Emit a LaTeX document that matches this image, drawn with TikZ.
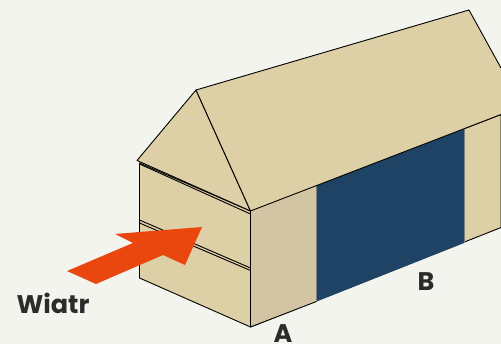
\documentclass[tikz,border=0pt]{standalone}
\usepackage{xcolor}
\usepackage{fontspec}
\setmainfont{Poppins}
\definecolor{wallbg}{HTML}{F3F4EE}
\definecolor{walltan}{HTML}{DDCFA6}
\definecolor{walldark}{HTML}{D3C5A3}
\definecolor{doorblue}{HTML}{1F4364}
\definecolor{windorange}{HTML}{EA470F}
\definecolor{labelgray}{HTML}{2B2B2B}
\tikzset{
  edge/.style={draw=black, line width=0.9pt, line join=round},
  seam/.style={draw=black, line width=0.9pt},
  label/.style={font=\fontsize{25.5}{25.5}\selectfont\bfseries, text=labelgray, inner sep=0pt}
}
\begin{document}
\begin{tikzpicture}[x=1pt, y=-1pt]
\useasboundingbox (0,0) rectangle (501,344);
% Background
\fill[wallbg] (0,0) rectangle (501,344);
% Gable wall
\draw[edge, fill=walltan] (139.5,163) -- (139.5,278) -- (250.5,327) -- (250.5,211) -- cycle;
% Gable triangle
\draw[edge, fill=walltan] (137,160.5) -- (196,90) -- (250.5,211) -- cycle;
% Long wall
\draw[edge, fill=walltan] (250.5,211) -- (250.5,327) -- (501,227.5) -- (501,114.5) -- cycle;
% Corner panel
\fill[walldark] (250.5,211) -- (250.5,327) -- (316.5,301.5) -- (316.5,185) -- cycle;
\draw[edge] (250.5,327) -- (316.5,301.5);
\draw[edge] (250.5,211) -- (250.5,327);
% Door
\fill[doorblue] (316.5,184.5) -- (316.5,301.5) -- (464,243) -- (464,128) -- cycle;
\draw[line width=0.5pt, draw=gray] (316.5,185) -- (316.5,301);
\draw[line width=0.5pt, draw=gray] (464,129) -- (464,243);
% Roof
\fill[walltan] (196,90) -- (469,10) -- (501,68) -- (501,114.5) -- (250.5,211) -- cycle;
\draw[edge] (196,90) -- (469,10) -- (501,68);
\draw[edge] (196,90) -- (250.5,211) -- (501,114.5);
% Seams on the gable wall
\foreach \ya/\yb in {164/214, 220/268, 223/270.5} {
    \draw[seam] (139.5,\ya) -- (250.5,\yb);
}
% Wind arrow
\fill[windorange] (67,271) -- (96,284) -- (163,255) -- (185,265) -- (202,227)
    -- (115,234) -- (133,243) -- cycle;
% Labels
\node[label] (wind) at (53,303) {Wiatr};
\node[label] (sideA) at (283,333.5) {A};
\node[label] (sideB) at (426,282) {B};
\end{tikzpicture}
\end{document}
